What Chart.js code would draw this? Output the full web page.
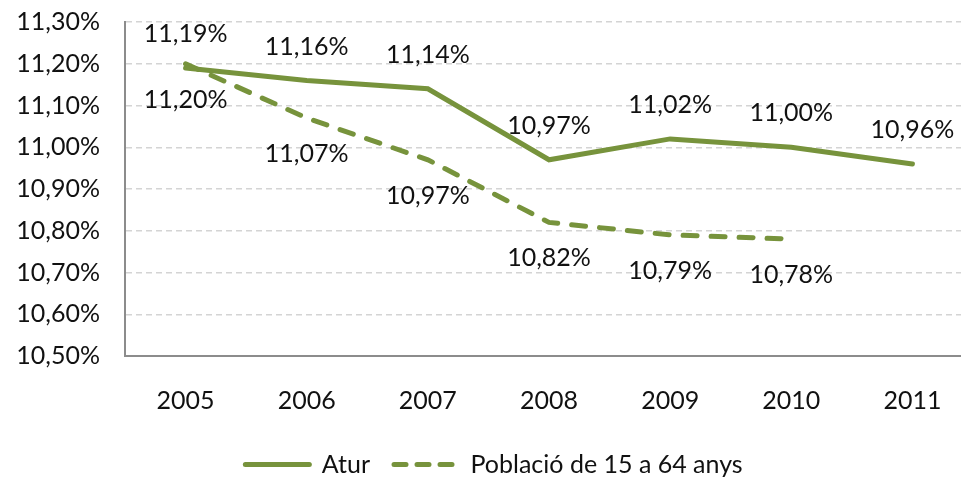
<!DOCTYPE html>
<html lang="ca">
<head>
<meta charset="UTF-8">
<title>Atur i població</title>
<script src="https://cdn.jsdelivr.net/npm/chart.js"></script>
<style>
    html, body { margin: 0; padding: 0; background: #fff; overflow: hidden; }
    #wrap { width: 973px; height: 487px; }
</style>
</head>
<body>
<div id="wrap"><canvas id="grafic"></canvas></div>
<script>
    const anys = ['2005', '2006', '2007', '2008', '2009', '2010', '2011'];
    const atur = [11.19, 11.16, 11.14, 10.97, 11.02, 11.00, 10.96];
    const poblacio = [11.20, 11.07, 10.97, 10.82, 10.79, 10.78, null];

    const verd = '#77933C';
    const font = 'Lato, "Open Sans", sans-serif';

    const fmt = v => v.toFixed(2).replace('.', ',') + '%';

    // etiquetes de dades: Atur a sobre, Població a sota
    const etiquetes = {
        id: 'etiquetes',
        afterDatasetsDraw(chart) {
            const ctx = chart.ctx;
            ctx.save();
            ctx.font = '25px ' + font;
            ctx.fillStyle = '#111';
            ctx.textAlign = 'center';
            ctx.textBaseline = 'middle';
            chart.data.datasets.forEach((ds, i) => {
                const meta = chart.getDatasetMeta(i);
                meta.data.forEach((pt, j) => {
                    const v = ds.data[j];
                    if (v == null) return;
                    const dy = i === 0 ? -34 : 36;
                    ctx.fillText(fmt(v), pt.x, pt.y + dy);
                });
            });
            ctx.restore();
        }
    };

    new Chart(document.getElementById('grafic'), {
        type: 'line',
        data: {
            labels: anys,
            datasets: [
                {
                    label: 'Atur',
                    data: atur,
                    borderColor: verd,
                    backgroundColor: verd,
                    borderWidth: 5,
                    pointRadius: 0,
                    borderCapStyle: 'round',
                    tension: 0
                },
                {
                    label: 'Població de 15 a 64 anys',
                    data: poblacio,
                    borderColor: verd,
                    backgroundColor: verd,
                    borderWidth: 5,
                    borderDash: [14, 14],
                    borderCapStyle: 'round',
                    pointRadius: 0,
                    tension: 0
                }
            ]
        },
        options: {
            responsive: true,
            maintainAspectRatio: false,
            animation: false,
            layout: { padding: { left: 15, right: 0, top: 22, bottom: 0 } },
            plugins: {
                tooltip: { enabled: false },
                legend: {
                    position: 'bottom',
                    labels: {
                        usePointStyle: true,
                        pointStyle: 'line',
                        pointStyleWidth: 64,
                        boxHeight: 12,
                        padding: 24,
                        color: '#111',
                        font: { family: font, size: 25 },
                        // el guionet es perd amb usePointStyle, el posem a mà
                        generateLabels(chart) {
                            const items = Chart.defaults.plugins.legend.labels.generateLabels(chart);
                            items.forEach(it => {
                                const ds = chart.data.datasets[it.datasetIndex];
                                it.lineDash = ds.borderDash ? [12, 11] : [];
                                it.lineCap = 'round';
                                it.lineWidth = 5;
                            });
                            return items;
                        }
                    }
                }
            },
            scales: {
                x: {
                    offset: true,
                    grid: { display: false, drawTicks: false },
                    border: { display: true, color: '#8c8c8c', width: 2 },
                    ticks: { padding: 30, color: '#111', font: { family: font, size: 25 } },
                    afterFit(s) { s.height = 72; s.paddingLeft = 0; s.paddingRight = 0; }
                },
                y: {
                    min: 10.5,
                    max: 11.3,
                    ticks: {
                        stepSize: 0.1,
                        padding: 25,
                        color: '#111',
                        font: { family: font, size: 25 },
                        callback: v => fmt(v)
                    },
                    grid: { color: '#d4d4d4', lineWidth: 1.5, drawTicks: false },
                    border: { display: true, color: '#8c8c8c', width: 2, dash: [6, 4] },
                    afterFit(s) { s.width = 110; s.paddingTop = 0; s.paddingBottom = 0; }
                }
            }
        },
        plugins: [etiquetes]
    });
</script>
</body>
</html>
